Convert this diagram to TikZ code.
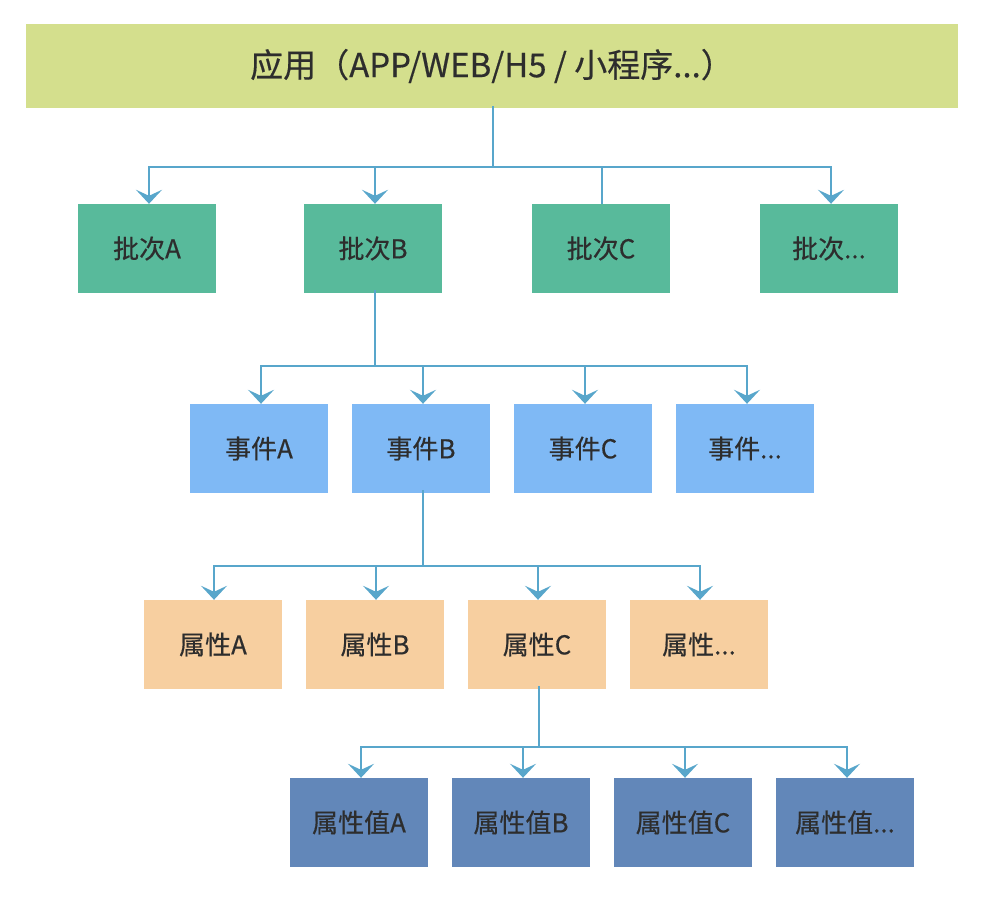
\documentclass[tikz,border=0pt]{standalone}
\usepackage{fontspec}
\setmainfont{Noto Sans CJK SC}[FakeBold=0.4]
\usetikzlibrary{arrows.meta}
\definecolor{appc}{RGB}{212,223,141}
\definecolor{batc}{RGB}{88,186,155}
\definecolor{evtc}{RGB}{127,185,245}
\definecolor{attc}{RGB}{247,207,160}
\definecolor{valc}{RGB}{98,135,185}
\definecolor{linec}{RGB}{88,166,203}
\definecolor{txtc}{RGB}{45,45,45}
\tikzset{
  box/.style={rectangle, minimum width=138pt, minimum height=89pt, inner sep=0pt, text=txtc, font=\fontsize{26}{30}\selectfont},
  batbox/.style={box, fill=batc},
  evtbox/.style={box, fill=evtc},
  attbox/.style={box, fill=attc},
  valbox/.style={box, fill=valc},
  appbox/.style={rectangle, fill=appc, minimum width=932pt, minimum height=84pt, inner sep=0pt, text=txtc, font=\fontsize{33}{37}\selectfont},
  conn/.style={draw=linec, line width=2pt},
  arr/.style={conn, -{Stealth[width=26pt,length=14pt,inset=6pt,color=linec]}},
}
\begin{document}
\begin{tikzpicture}[x=1pt,y=-1pt]
\useasboundingbox (0,0) rectangle (992,896);
\node[appbox] (app) at (492,66) {应用（APP/WEB/H5 / 小程序...）};
% batches
\node[batbox] (bA) at (147,248.5) {批次A};
\node[batbox] (bB) at (373,248.5) {批次B};
\node[batbox] (bC) at (601,248.5) {批次C};
\node[batbox] (bD) at (829,248.5) {批次...};
% events
\node[evtbox] (eA) at (259,448.5) {事件A};
\node[evtbox] (eB) at (421,448.5) {事件B};
\node[evtbox] (eC) at (583,448.5) {事件C};
\node[evtbox] (eD) at (745,448.5) {事件...};
% attributes
\node[attbox] (aA) at (213,644.5) {属性A};
\node[attbox] (aB) at (375,644.5) {属性B};
\node[attbox] (aC) at (537,644.5) {属性C};
\node[attbox] (aD) at (699,644.5) {属性...};
% values
\node[valbox] (vA) at (359,822.5) {属性值A};
\node[valbox] (vB) at (521,822.5) {属性值B};
\node[valbox] (vC) at (683,822.5) {属性值C};
\node[valbox] (vD) at (845,822.5) {属性值...};
% buses
\coordinate (bus0) at (493,167);
\coordinate (bus1) at (375,366);
\coordinate (bus2) at (423,566);
\coordinate (bus3) at (539,747);
% level 1
\draw[conn] ([yshift=2pt]app.south -| bus0) -- (bus0);
\draw[arr] (bus0) -| ([xshift=2pt]bA.north);
\draw[arr] (bus0) -| ([xshift=2pt]bB.north);
\draw[conn] (bus0) -| ([xshift=1pt]bC.north);
\draw[arr] (bus0) -| ([xshift=2pt]bD.north);
% level 2
\draw[conn] ([yshift=3pt]bB.south -| bus1) -- (bus1);
\draw[arr] (bus1) -| ([xshift=2pt]eA.north);
\draw[arr] (bus1) -| ([xshift=2pt]eB.north);
\draw[arr] (bus1) -| ([xshift=2pt]eC.north);
\draw[arr] (bus1) -| ([xshift=2pt]eD.north);
% level 3
\draw[conn] ([yshift=3pt]eB.south -| bus2) -- (bus2);
\draw[arr] (bus2) -| ([xshift=1pt]aA.north);
\draw[arr] (bus2) -| ([xshift=1pt]aB.north);
\draw[arr] (bus2) -| ([xshift=1pt]aC.north);
\draw[arr] (bus2) -| ([xshift=1pt]aD.north);
% level 4
\draw[conn] ([yshift=3pt]aC.south -| bus3) -- (bus3);
\draw[arr] (bus3) -| ([xshift=2pt]vA.north);
\draw[arr] (bus3) -| ([xshift=2pt]vB.north);
\draw[arr] (bus3) -| ([xshift=2pt]vC.north);
\draw[arr] (bus3) -| ([xshift=2pt]vD.north);
\end{tikzpicture}
\end{document}
